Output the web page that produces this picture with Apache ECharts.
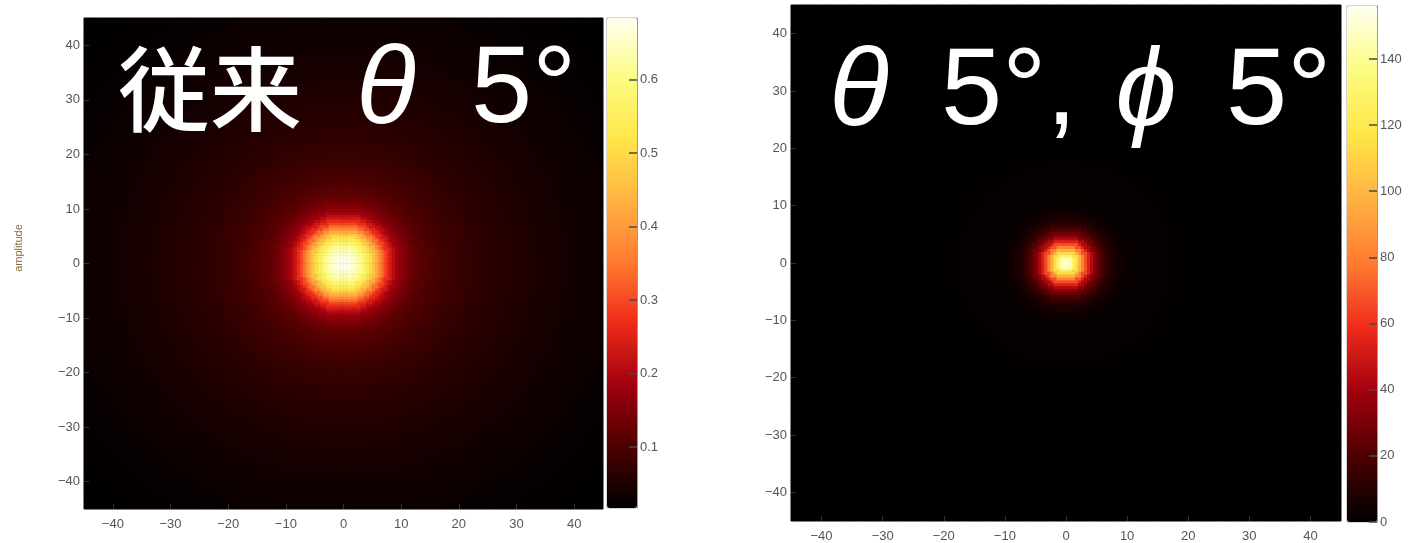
<!DOCTYPE html>
<html>
<head>
<meta charset="utf-8">
<title>heatmap</title>
<script src="https://cdn.jsdelivr.net/npm/echarts@6/dist/echarts.min.js"></script>
<style>
  html, body { margin: 0; padding: 0; background: #fff; }
  #main { width: 1408px; height: 543px; }
</style>
</head>
<body>
<div id="main"></div>
<script>
// 刻度
var axisTicks = [-40, -30, -20, -10, 0, 10, 20, 30, 40];
var leftBarTicks = [0.1, 0.2, 0.3, 0.4, 0.5, 0.6];
var rightBarTicks = [0, 20, 40, 60, 80, 100, 120, 140];

// 径向分布: 半径 -> 强度
var leftRadius = [0, 0.5, 1, 1.5, 2, 2.5, 3, 3.5, 4, 4.5, 5, 5.5, 6, 6.5, 7, 7.5, 8, 8.5, 9, 9.5,
  10, 10.5, 11, 11.5, 12, 12.5, 13, 14, 15, 16, 17, 18, 19, 20, 21, 22, 23, 24, 25, 26, 28, 30,
  32, 34, 36, 38, 40, 43, 46, 50, 55, 60, 64];
var leftLevel = [0.684, 0.682, 0.676, 0.668, 0.657, 0.642, 0.623, 0.601, 0.575, 0.545, 0.509, 0.470, 0.427, 0.382, 0.339, 0.299, 0.265, 0.235, 0.210, 0.190,
  0.174, 0.161, 0.150, 0.139, 0.131, 0.124, 0.118, 0.110, 0.103, 0.097, 0.092, 0.087, 0.083, 0.079, 0.076, 0.073, 0.070, 0.067, 0.065, 0.062, 0.058, 0.054,
  0.050, 0.046, 0.043, 0.040, 0.037, 0.033, 0.030, 0.026, 0.022, 0.019, 0.017];

var rightRadius = [0, 0.5, 1, 1.5, 2, 2.5, 3, 3.5, 4, 4.5, 5, 5.5, 6, 6.5, 7, 7.5, 8, 9, 10, 11, 12, 14, 15, 16, 18, 20, 25, 30, 40, 64];
var rightLevel = [155, 152, 144, 130, 114, 98, 82, 67, 54, 43, 34, 27, 21, 16, 12, 9, 7, 4, 2.5, 1.8, 1.5, 1.8, 2, 1.8, 1.2, 0.7, 0.3, 0.1, 0, 0];

var leftRange = [0.017, 0.684];
var rightRange = [0, 156];

var hotColors = ['#000000', '#4c0000', '#a0000e', '#ee2a1a', '#ff7a30', '#ffb142', '#ffe547', '#fcfc80', '#fffff2'];

// 单元格中心, 0.5 间隔
var cells = [];
for (var i = 0; i < 180; i++) cells.push(-44.75 + i * 0.5);

function levelAt(radius, level, r) {
  var best = 0;
  for (var k = 1; k < radius.length; k++) {
    if (Math.abs(radius[k] - r) < Math.abs(radius[best] - r)) best = k;
  }
  return level[best];
}

function buildCells(radius, level) {
  var out = [];
  for (var i = 0; i < cells.length; i++) {
    for (var j = 0; j < cells.length; j++) {
      var r = Math.sqrt(cells[i] * cells[i] + cells[j] * cells[j]);
      out.push([i, j, levelAt(radius, level, r)]);
    }
  }
  return out;
}

function fmtMinus(v) {
  return v < 0 ? '\u2212' + (-v) : String(v);
}

var labelStyle = { color: '#555', fontSize: 13, fontFamily: 'Liberation Sans' };

function hiddenCat(grid, pos) {
  return { gridIndex: grid, type: 'category', data: cells, show: false, position: pos };
}
function plotAxis(grid, pos) {
  return {
    gridIndex: grid, type: 'value', min: -45, max: 45, position: pos, z: 5,
    axisLine: { show: false, onZero: false }, splitLine: { show: false },
    axisTick: { inside: true, length: 5, customValues: axisTicks, lineStyle: { color: '#333' } },
    axisLabel: Object.assign({ customValues: axisTicks, formatter: fmtMinus, margin: pos === 'bottom' ? 9 : 4 }, labelStyle)
  };
}
function barAxis(grid, range, ticks) {
  return {
    gridIndex: grid, type: 'value', min: range[0], max: range[1], position: 'right', z: 10,
    axisLine: { show: true, onZero: false, lineStyle: { color: '#999', width: 1 } }, splitLine: { show: false },
    axisTick: { inside: true, length: 8, customValues: ticks, lineStyle: { color: '#4a4a4a', width: 1.5 } },
    axisLabel: Object.assign({ customValues: ticks, margin: 3 }, labelStyle)
  };
}

var myChart = echarts.init(document.getElementById('main'));

var titleFont = '110px "Liberation Sans"';
var greekFont = 'italic 110px "Liberation Sans"';
function word(x, y, text, font, align) {
  return {
    type: 'text', x: x, y: y, z: 100,
    style: {
      text: text, font: font, fill: '#fff', align: align || 'left', verticalAlign: 'middle',
      shadowColor: 'rgba(0,0,0,0.7)', shadowBlur: 4
    }
  };
}

var option = {
  animation: false,
  backgroundColor: '#fff',
  grid: [
    { left: 84, top: 18, width: 519, height: 491, show: true, backgroundColor: '#0c0000', borderColor: '#666', borderWidth: 1 },
    { left: 607, top: 18, width: 30, height: 490, show: true, borderColor: '#aaa', borderWidth: 1 },
    { left: 791, top: 5, width: 550, height: 518, show: true, backgroundColor: '#000', borderColor: '#666', borderWidth: 1 },
    { left: 1347, top: 6, width: 30, height: 516, show: true, borderColor: '#aaa', borderWidth: 1 }
  ],
  xAxis: [
    hiddenCat(0, 'top'),
    plotAxis(0, 'bottom'),
    { gridIndex: 1, type: 'value', show: false, min: 0, max: 1 },
    hiddenCat(2, 'top'),
    plotAxis(2, 'bottom'),
    { gridIndex: 3, type: 'value', show: false, min: 0, max: 1 }
  ],
  yAxis: [
    hiddenCat(0, 'right'),
    plotAxis(0, 'left'),
    barAxis(1, leftRange, leftBarTicks),
    hiddenCat(2, 'right'),
    plotAxis(2, 'left'),
    barAxis(3, rightRange, rightBarTicks)
  ],
  visualMap: [
    {
      type: 'continuous', seriesIndex: 0, min: leftRange[0], max: leftRange[1],
      left: 607, top: 18, itemWidth: 30, itemHeight: 490, padding: 0, z: 2,
      calculable: false, hoverLink: false, inRange: { color: hotColors }
    },
    {
      type: 'continuous', seriesIndex: 1, min: rightRange[0], max: rightRange[1],
      left: 1347, top: 6, itemWidth: 30, itemHeight: 516, padding: 0, z: 2,
      calculable: false, hoverLink: false, inRange: { color: hotColors }
    }
  ],
  series: [
    {
      type: 'heatmap', xAxisIndex: 0, yAxisIndex: 0, progressive: 0,
      emphasis: { disabled: true }, data: buildCells(leftRadius, leftLevel)
    },
    {
      type: 'heatmap', xAxisIndex: 3, yAxisIndex: 3, progressive: 0,
      emphasis: { disabled: true }, data: buildCells(rightRadius, rightLevel)
    }
  ],
  graphic: [
    word(118, 89, '従来', '500 92px "Noto Sans CJK JP"'),
    word(386, 92, 'θ', greekFont, 'center'),
    word(471, 92, '5°', titleFont),
    word(859, 94, 'θ', greekFont, 'center'),
    word(941, 94, '5°,', titleFont),
    word(1146, 94, 'ϕ', greekFont, 'center'),
    word(1226, 94, '5°', titleFont),
    {
      type: 'text', x: 19, y: 248, rotation: Math.PI / 2,
      style: { text: 'amplitude', font: '11px "Liberation Sans"', fill: '#8a6a38', align: 'center', verticalAlign: 'middle' }
    }
  ]
};

myChart.setOption(option);
</script>
</body>
</html>
